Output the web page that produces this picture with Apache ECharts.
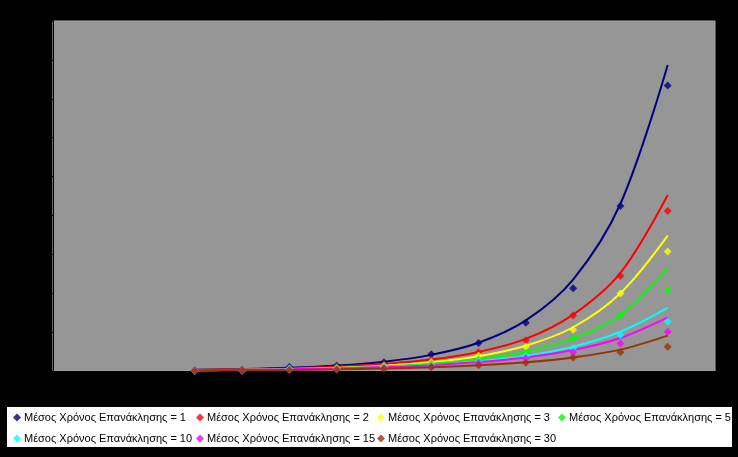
<!DOCTYPE html>
<html>
<head>
<meta charset="utf-8">
<script src="https://cdn.jsdelivr.net/npm/echarts@6/dist/echarts.min.js"></script>
<style>
html,body{margin:0;padding:0;background:#000;}
#c{width:738px;height:457px;}
</style>
</head>
<body>
<div id="c"></div>
<script>
// Population values (x)
const population = [1500, 2000, 2500, 3000, 3500, 4000, 4500, 5000, 5500, 6000, 6500];

// Series labels
const seriesNames = [
  'Μέσος Χρόνος Επανάκλησης = 1',
  'Μέσος Χρόνος Επανάκλησης = 2',
  'Μέσος Χρόνος Επανάκλησης = 3',
  'Μέσος Χρόνος Επανάκλησης = 5',
  'Μέσος Χρόνος Επανάκλησης = 10',
  'Μέσος Χρόνος Επανάκλησης = 15',
  'Μέσος Χρόνος Επανάκλησης = 30'
];
const seriesColors = ['#000080', '#FF0000', '#FFFF00', '#00FF00', '#00FFFF', '#FF00FF', '#993300'];

// Observed values (markers)
const valuesT1  = [0.2, 0.6, 2.0, 2.7, 4.5, 8.6, 14.4, 24.8, 42.5, 84.9, 146.8];
const valuesT2  = [0.2, 0.4, 1.4, 2.0, 3.4, 5.7, 9.7, 15.8, 28.5, 48.9, 82.3];
const valuesT3  = [0.2, 0.3, 1.1, 1.6, 2.7, 4.6, 7.8, 12.5, 21.2, 39.8, 61.4];
const valuesT5  = [0.1, 0.3, 0.9, 1.3, 2.2, 3.6, 5.9, 9.2, 16.8, 28.4, 41.7];
const valuesT10 = [0.1, 0.2, 0.7, 1.0, 1.8, 2.9, 4.8, 7.7, 11.7, 18.5, 25.4];
const valuesT15 = [0.1, 0.2, 0.6, 0.9, 1.5, 2.5, 4.2, 6.6, 9.7, 14.2, 20.2];
const valuesT30 = [0.1, 0.2, 0.4, 0.7, 1.1, 1.9, 3.0, 4.3, 7.0, 9.6, 12.5];

// Exponential trendline values read at each population value
const trendT1  = [0.6, 1.0, 1.65, 2.8, 4.8, 8.3, 14.5, 26.0, 47.0, 86.0, 157.4];
const trendT2  = [0.55, 0.85, 1.35, 2.2, 3.6, 5.9, 9.8, 16.5, 29.0, 50.5, 90.5];
const trendT3  = [0.4, 0.62, 1.0, 1.65, 2.7, 4.5, 7.6, 13.0, 22.5, 40.0, 69.6];
const trendT5  = [0.39, 0.6, 0.92, 1.45, 2.3, 3.7, 6.0, 10.0, 16.8, 28.8, 52.8];
const trendT10 = [0.36, 0.55, 0.85, 1.3, 2.0, 3.1, 4.9, 7.8, 12.5, 20.2, 32.6];
const trendT15 = [0.4, 0.6, 0.9, 1.35, 2.0, 3.0, 4.6, 7.0, 10.8, 17.0, 27.6];
const trendT30 = [0.27, 0.39, 0.57, 0.85, 1.25, 1.9, 2.9, 4.5, 7.0, 11.0, 18.2];

// Axis ticks
const yTicks = {min: 0, max: 180, interval: 20};
const xTicks = {min: 0, max: 7000, interval: 1000};

const observed = [valuesT1, valuesT2, valuesT3, valuesT5, valuesT10, valuesT15, valuesT30];
const trends = [trendT1, trendT2, trendT3, trendT5, trendT10, trendT15, trendT30];

const pair = (arr) => arr.map((v, i) => [population[i], v]);

const series = [];
trends.forEach((t, k) => {
  series.push({
    name: seriesNames[k] + ' trend',
    type: 'line',
    data: pair(t),
    smooth: 0.35,
    showSymbol: false,
    symbol: 'none',
    lineStyle: {color: seriesColors[k], width: 2},
    z: 2,
    silent: true
  });
});
observed.forEach((o, k) => {
  series.push({
    name: seriesNames[k],
    type: 'scatter',
    data: pair(o),
    symbol: 'diamond',
    symbolSize: 8,
    itemStyle: {color: seriesColors[k]},
    z: 3
  });
});

// legend columns: [names], left
const legendCols = [
  [[seriesNames[0], seriesNames[4]], 13],
  [[seriesNames[1], seriesNames[5]], 196],
  [[seriesNames[2], seriesNames[6]], 377],
  [[seriesNames[3]], 558]
];
const legends = legendCols.map(([names, left]) => ({
  data: names,
  left: left, top: 411,
  orient: 'vertical',
  itemWidth: 8, itemHeight: 8,
  itemGap: 8,
  padding: 0,
  icon: 'diamond',
  textStyle: {color: '#000', fontSize: 11, lineHeight: 13, padding: [0, 0, 0, -2], fontFamily: 'Liberation Sans, Arial, sans-serif'}
}));

const chart = echarts.init(document.getElementById('c'), null, {renderer: 'canvas'});
chart.setOption({
  backgroundColor: '#000000',
  animation: false,
  textStyle: {fontFamily: 'Liberation Sans, Arial, sans-serif'},
  graphic: [{
    type: 'rect',
    left: 7, top: 407,
    shape: {width: 725, height: 40},
    style: {fill: '#ffffff'},
    z: -1
  }],
  grid: {
    left: 51, right: 23, top: 21, bottom: 86,
    show: true,
    backgroundColor: '#969696',
    borderColor: '#a8a8a8',
    borderWidth: 1
  },
  legend: legends,
  xAxis: {
    type: 'value',
    min: xTicks.min, max: xTicks.max, interval: xTicks.interval,
    name: 'Πληθυσμός',
    nameLocation: 'middle',
    nameGap: 17,
    nameTextStyle: {color: '#000', fontSize: 9},
    axisLine: {show: true, lineStyle: {color: '#000'}},
    axisTick: {show: true, lineStyle: {color: '#000'}},
    axisLabel: {color: '#000', fontSize: 9, margin: 10},
    splitLine: {show: false}
  },
  yAxis: {
    type: 'value',
    min: yTicks.min, max: yTicks.max, interval: yTicks.interval,
    name: 'Απαιτούμενη Επιφάνεια',
    nameLocation: 'middle',
    nameGap: 28,
    nameTextStyle: {color: '#000', fontSize: 9},
    axisLine: {show: true, lineStyle: {color: '#000'}},
    axisTick: {show: true, lineStyle: {color: '#000'}},
    axisLabel: {color: '#000', fontSize: 9, margin: 10},
    splitLine: {show: false}
  },
  series: series
});
</script>
</body>
</html>
